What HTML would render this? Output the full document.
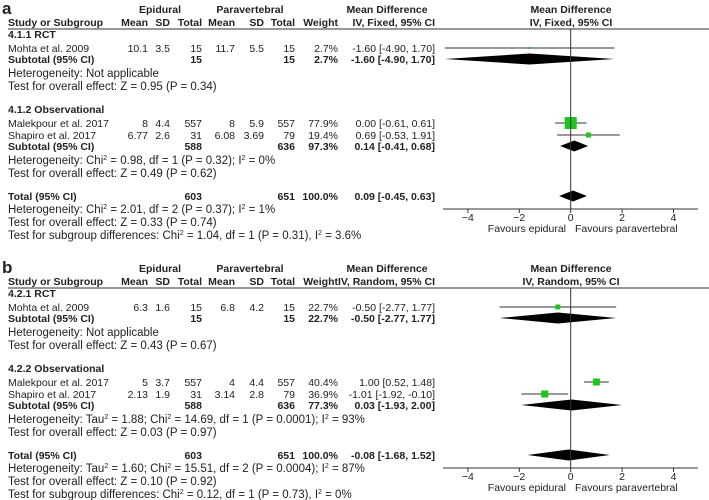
<!DOCTYPE html>
<html><head><meta charset="utf-8"><style>
html,body{margin:0;padding:0;background:#fff;}
svg{display:block;font-family:"Liberation Sans",sans-serif;font-size:10.5px;fill:#222;}
.b{font-weight:bold;}
.n{font-size:11.5px;}
</style></head><body>
<svg id="chart" width="709" height="500" viewBox="0 0 709 500"></svg>
<script>
// Panel A data
const studiesA = ["Mohta et al. 2009","Malekpour et al. 2017","Shapiro et al. 2017"];
const rowsA = [["10.1","3.5","15","11.7","5.5","15","2.7%"],["8","4.4","557","8","5.9","557","77.9%"],["6.77","2.6","31","6.08","3.69","79","19.4%"]];
const mdA = [-1.60, 0.00, 0.69];
const loA = [-4.90, -0.61, -0.53];
const hiA = [1.70, 0.61, 1.91];
const sizeA = [2, 12, 5];
const subMdA = [-1.60, 0.14, 0.09];
const subLoA = [-4.90, -0.41, -0.45];
const subHiA = [1.70, 0.68, 0.63];
// Panel B data
const studiesB = ["Mohta et al. 2009","Malekpour et al. 2017","Shapiro et al. 2017"];
const rowsB = [["6.3","1.6","15","6.8","4.2","15","22.7%"],["5","3.7","557","4","4.4","557","40.4%"],["2.13","1.9","31","3.14","2.8","79","36.9%"]];
const mdB = [-0.50, 1.00, -1.01];
const loB = [-2.77, 0.52, -1.92];
const hiB = [1.77, 1.48, -0.10];
const sizeB = [5, 7, 7];
const subMdB = [-0.50, 0.03, -0.08];
const subLoB = [-2.77, -1.93, -1.68];
const subHiB = [1.77, 2.00, 1.52];
const ticks = [-4, -2, 0, 2, 4];

const NS = "http://www.w3.org/2000/svg";
const svg = document.getElementById("chart");
function xs(v){ return 570.7 + v * 25.7; }
function el(tag, attrs, parent){ const e = document.createElementNS(NS, tag); for (const k in attrs) e.setAttribute(k, attrs[k]); (parent||svg).appendChild(e); return e; }
function txt(g, x, y, s, anchor, bold, name, cls){
  const t = el("text", {x:x, y:y+4, "text-anchor":anchor||"start"}, g);
  t.setAttribute("class", (bold?"b ":"") + (cls||""));
  
  
  t.innerHTML = s; return t;
}
function fmt(v){ return (v<0?"-":"") + Math.abs(v).toFixed(2); }
function ci(m,l,h){ return fmt(m)+" ["+fmt(l)+", "+fmt(h)+"]"; }

function panel(o, label, method, grp, studies, rows, md, lo, hi, sz, smd, slo, shi, texts){
  const g = el("g", {});
  
  
  const lt = el("text", {x:2, y:o+14, "font-size":"17", "font-weight":"bold"}, g);
  
  
  lt.textContent = label;
  txt(g, 160, o+9, "Epidural", "middle", true, "epidural-header");
  txt(g, 250, o+9, "Paravertebral", "middle", true, "paravertebral-header");
  txt(g, 387, o+9, "Mean Difference", "middle", true, "md-header");
  txt(g, 571, o+9, "Mean Difference", "middle", true, "plot-header");
  const hx = [148,170,202,235,264,295,338];
  const hn = ["Mean","SD","Total","Mean","SD","Total","Weight"];
  txt(g, 8, o+22, "Study or Subgroup", "start", true, "study-column-header");
  hn.forEach((h,i)=>txt(g, hx[i], o+22, h, "end", true, "column-header"));
  txt(g, 435, o+22, "IV, "+method+", 95% CI", "end", true, "md-method-header");
  txt(g, 571, o+22, "IV, "+method+", 95% CI", "middle", true, "plot-method-header");
  const hl = el("line", {x1:8, x2:709, y1:o+29, y2:o+29, stroke:"#333", "stroke-width":1}, g);
  
  
  const studyY = [48, 123, 135];
  txt(g, 8, o+34, grp+".1 RCT", "start", true, "subgroup-rct-title");
  txt(g, 8, o+109, grp+".2 Observational", "start", true, "subgroup-obs-title");
  studies.forEach((s,i)=>{
    const y = o + studyY[i];
    txt(g, 8, y, s, "start", false, "study-name");
    rows[i].forEach((v,j)=>txt(g, hx[j], y, v, "end", false, "study-value"));
    txt(g, 435, y, ci(md[i],lo[i],hi[i]), "end", false, "study-ci");
    const l = el("line", {x1:xs(lo[i]), x2:xs(hi[i]), y1:y, y2:y, stroke:"#333", "stroke-width":1}, g);
    
    
    const r = el("rect", {x:xs(md[i])-sz[i]/2, y:y-sz[i]/2, width:sz[i], height:sz[i], fill:"#1ec41e"}, g);
    
    
  });
  const subY = [59, 146, 196];
  const subLab = ["Subtotal (95% CI)","Subtotal (95% CI)","Total (95% CI)"];
  const subT = [[rows[0][2],rows[0][5],rows[0][6]],[texts.s2[0],texts.s2[1],texts.s2[2]],["603","651","100.0%"]];
  subY.forEach((yy,i)=>{
    const y = o + yy;
    txt(g, 8, y, subLab[i], "start", true, "subtotal-label");
    txt(g, 202, y, subT[i][0], "end", true, "subtotal-epidural");
    txt(g, 295, y, subT[i][1], "end", true, "subtotal-paravertebral");
    txt(g, 338, y, subT[i][2], "end", true, "subtotal-weight");
    txt(g, 435, y, ci(smd[i],slo[i],shi[i]), "end", true, "subtotal-ci");
    const p = el("polygon", {points:[xs(slo[i])+","+y, xs(smd[i])+","+(y-5.5), xs(shi[i])+","+y, xs(smd[i])+","+(y+5.5)].join(" "), fill:"#000"}, g);
    
    
  });
  const noteY = [73,86,160,173,209,222,235];
  texts.notes.forEach((n,i)=>txt(g, 8, o+noteY[i], n, "start", false, "stat-note", "n"));
  const axY = o + 209;
  const zl = el("line", {x1:xs(0), x2:xs(0), y1:o+29, y2:axY, stroke:"#333", "stroke-width":1}, g);
  
  
  const ax = el("line", {x1:443, x2:698, y1:axY, y2:axY, stroke:"#333", "stroke-width":1}, g);
  
  
  ticks.forEach(t=>{
    const tk = el("line", {x1:xs(t), x2:xs(t), y1:axY, y2:axY+4, stroke:"#333"}, g);
    
    
    txt(g, xs(t), axY+8, (t<0?"\u2212":"")+Math.abs(t), "middle", false, "x-tick-label");
  });
  txt(g, 566, axY+19, "Favours epidural", "end", false, "favours-epidural");
  txt(g, 575, axY+19, "Favours paravertebral", "start", false, "favours-paravertebral");
}
panel(0, "a", "Fixed", "4.1", studiesA, rowsA, mdA, loA, hiA, sizeA, subMdA, subLoA, subHiA, {
  s2:["588","636","97.3%"],
  notes:["Heterogeneity: Not applicable","Test for overall effect: Z = 0.95 (P = 0.34)",
   "Heterogeneity: Chi<tspan font-size='7' dy='-4'>2</tspan><tspan dy='4'> = 0.98, df = 1 (P = 0.32); I</tspan><tspan font-size='7' dy='-4'>2</tspan><tspan dy='4'> = 0%</tspan>",
   "Test for overall effect: Z = 0.49 (P = 0.62)",
   "Heterogeneity: Chi<tspan font-size='7' dy='-4'>2</tspan><tspan dy='4'> = 2.01, df = 2 (P = 0.37); I</tspan><tspan font-size='7' dy='-4'>2</tspan><tspan dy='4'> = 1%</tspan>",
   "Test for overall effect: Z = 0.33 (P = 0.74)",
   "Test for subgroup differences: Chi<tspan font-size='7' dy='-4'>2</tspan><tspan dy='4'> = 1.04, df = 1 (P = 0.31), I</tspan><tspan font-size='7' dy='-4'>2</tspan><tspan dy='4'> = 3.6%</tspan>"]
});
panel(259, "b", "Random", "4.2", studiesB, rowsB, mdB, loB, hiB, sizeB, subMdB, subLoB, subHiB, {
  s2:["588","636","77.3%"],
  notes:["Heterogeneity: Not applicable","Test for overall effect: Z = 0.43 (P = 0.67)",
   "Heterogeneity: Tau<tspan font-size='7' dy='-4'>2</tspan><tspan dy='4'> = 1.88; Chi</tspan><tspan font-size='7' dy='-4'>2</tspan><tspan dy='4'> = 14.69, df = 1 (P = 0.0001); I</tspan><tspan font-size='7' dy='-4'>2</tspan><tspan dy='4'> = 93%</tspan>",
   "Test for overall effect: Z = 0.03 (P = 0.97)",
   "Heterogeneity: Tau<tspan font-size='7' dy='-4'>2</tspan><tspan dy='4'> = 1.60; Chi</tspan><tspan font-size='7' dy='-4'>2</tspan><tspan dy='4'> = 15.51, df = 2 (P = 0.0004); I</tspan><tspan font-size='7' dy='-4'>2</tspan><tspan dy='4'> = 87%</tspan>",
   "Test for overall effect: Z = 0.10 (P = 0.92)",
   "Test for subgroup differences: Chi<tspan font-size='7' dy='-4'>2</tspan><tspan dy='4'> = 0.12, df = 1 (P = 0.73), I</tspan><tspan font-size='7' dy='-4'>2</tspan><tspan dy='4'> = 0%</tspan>"]
});
</script>
</body></html>
